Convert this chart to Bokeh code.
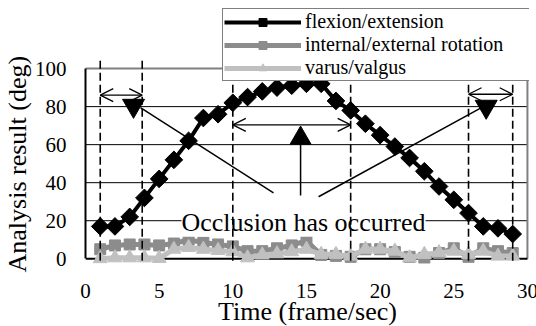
import math
from bokeh.plotting import figure
from bokeh.models import Range1d, FixedTicker, Arrow, OpenHead, Label, Legend, LegendItem, Title
from bokeh.embed import file_html
from bokeh.resources import INLINE

# ---- data ----
frames = list(range(1, 30))
flexion = [17, 17, 22, 32, 42, 52, 62, 74, 76, 82, 85, 88, 90, 91, 92, 92, 83, 78, 71,
           65, 59, 53, 46, 38, 31, 24, 17, 16, 13]
rotation = [5, 7, 7.5, 7.5, 7, 8, 10, 8.5, 7.5, 6.5, 4, 4, 5.5, 7, 9.5, 2, 1.5, 1, 5,
            5, 3.5, 1, 0.5, 3, 5.5, 1, 5.5, 4, 3]
varus = [0, 0.5, 0.5, 0.5, 0.2, 5, 6, 5, 4.4, 3.7, 0.5, 2, 2.6, 3.7, 5, 2.3, 2.3, 1.4, 5,
         5, 4, 0.5, 2.3, 3.2, 4, 2.3, 4, 1.4, 1.4]
series_names = ["flexion/extension", "internal/external rotation", "varus/valgus"]

x_ticks = [0, 5, 10, 15, 20, 25, 30]
y_ticks = [0, 20, 40, 60, 80, 100]
grid_y = [20, 40, 60, 80]
X_MIN, X_MAX, Y_MIN, Y_MAX = 0, 30, 0, 100
x_title = "Time (frame/sec)"
y_title = "Analysis result (deg)"

# ---- annotation positions ----
occl_x = [1, 3.85, 10, 18, 26, 29]
occl_top = [106, 106, 100, 94.7, 94.7, 94.7]
occl_bottom = [-1, -1, -1, -1, -1, -1]
span_x0 = [1, 10, 26]
span_x1 = [3.85, 18, 29]
span_y = [86, 70.4, 86.5]
ptr_x0 = [3.73, 14.6, 15.82]
ptr_y0 = [79.5, 62.6, 32.6]
ptr_x1 = [12.76, 14.6, 26.88]
ptr_y1 = [34.7, 33.2, 79.5]
down_tri_x = [3.26, 27.2]
down_tri_y = [80.5, 80]
up_tri_x = [14.6]
up_tri_y = [63.4]
note_text = "Occlusion has occurred"
note_x, note_y = 14.8, 19.2

FONT = "Liberation Serif"
DARK = "#8c8c8c"
LIGHT = "#c0c0c0"

p = figure(frame_width=444, frame_height=263,
           x_range=Range1d(0, 30.14), y_range=Range1d(-2.5, 135.8),
           output_backend="svg", toolbar_location=None,
           min_border_left=82, min_border_right=10, min_border_top=0, min_border_bottom=63)
p.outline_line_color = None
p.xgrid.visible = False
p.ygrid.visible = False
p.background_fill_color = "white"
p.border_fill_color = "white"

# axes
for ax in (p.xaxis[0], p.yaxis[0]):
    ax.major_tick_line_color = None
    ax.minor_tick_line_color = None
    ax.major_tick_out = 0
    ax.major_tick_in = 0
    ax.minor_tick_out = 0
    ax.minor_tick_in = 0
    ax.major_label_text_font = FONT
    ax.major_label_text_font_size = "21px"
    ax.major_label_text_color = "black"

p.xaxis.ticker = FixedTicker(ticks=x_ticks)
p.xaxis.bounds = (X_MIN, X_MAX)
p.xaxis.axis_line_color = None
p.xaxis.major_label_standoff = 20
p.xaxis.axis_label = x_title
p.xaxis.axis_label_standoff = -4
p.xaxis.axis_label_text_font = FONT
p.xaxis.axis_label_text_font_size = "26px"
p.xaxis.axis_label_text_font_style = "normal"
p.xaxis.axis_label_text_color = "black"

p.yaxis.ticker = FixedTicker(ticks=y_ticks)
p.yaxis.bounds = (Y_MIN, Y_MAX)
p.yaxis.axis_line_color = "black"
p.yaxis.axis_line_width = 2
p.yaxis.major_label_standoff = 19

p.add_layout(Title(text=y_title, align="left", offset=-9, standoff=0,
                   text_font=FONT, text_font_size="26px", text_font_style="normal",
                   text_color="black"), "left")

# gridlines, x axis line and gray border
p.segment(x0=X_MIN, x1=X_MAX, y0=grid_y, y1=grid_y, line_color="black", line_width=1)
p.segment(x0=[X_MIN, X_MAX], y0=[Y_MAX, Y_MIN], x1=[X_MAX, X_MAX], y1=[Y_MAX, Y_MAX],
          line_color="#808080", line_width=2)
p.segment(x0=X_MIN, x1=X_MAX, y0=Y_MIN, y1=Y_MIN, line_color="black", line_width=2)

# series
r_rot_l = p.line(frames, rotation, line_color=DARK, line_width=5)
r_rot_m = p.scatter(frames, rotation, marker="square", size=11, fill_color=DARK, line_color=DARK)
r_var_l = p.line(frames, varus, line_color=LIGHT, line_width=5)
r_var_m = p.scatter(frames, varus, marker="triangle", size=14, fill_color=LIGHT, line_color=LIGHT)
r_flx_l = p.line(frames, flexion, line_color="black", line_width=4)
r_flx_m = p.scatter(frames, flexion, marker="square", angle=math.pi / 4, size=12.5,
                    fill_color="black", line_color="black")

# occlusion markers
dashed = p.segment(x0=occl_x, x1=occl_x, y0=occl_bottom, y1=occl_top, line_color="black",
                   line_width=1.6, line_dash="8 4")
dashed.level = "overlay"
p.segment(x0=ptr_x0, y0=ptr_y0, x1=ptr_x1, y1=ptr_y1, line_color="black", line_width=1.5)
p.scatter(down_tri_x, down_tri_y, marker="inverted_triangle", size=22, color="black")
p.scatter(up_tri_x, up_tri_y, marker="triangle", size=21, color="black")
for a, b, y in zip(span_x0, span_x1, span_y):
    p.add_layout(Arrow(start=OpenHead(size=13, line_width=1.3, line_color="black"),
                       end=OpenHead(size=13, line_width=1.3, line_color="black"),
                       x_start=a, y_start=y, x_end=b, y_end=y,
                       line_width=1.3, line_color="black"))

p.add_layout(Label(x=note_x, y=note_y, text=note_text, text_align="center",
                   text_baseline="alphabetic", text_font=FONT, text_font_size="26px",
                   text_color="black", background_fill_color="white"))

legend = Legend(items=[
    LegendItem(label=series_names[0], renderers=[r_flx_l, r_flx_m]),
    LegendItem(label=series_names[1], renderers=[r_rot_l, r_rot_m]),
    LegendItem(label=series_names[2], renderers=[r_var_l, r_var_m]),
], location=(137, 182), padding=1, margin=0, spacing=0,
    glyph_width=77, glyph_height=20, label_standoff=4, label_width=233, label_height=18,
    label_text_font=FONT, label_text_font_size="20px", label_text_color="black",
    border_line_color="black", border_line_width=1,
    background_fill_color="white", background_fill_alpha=1.0)
p.add_layout(legend)

open("out.html", "w").write(file_html(p, INLINE))
